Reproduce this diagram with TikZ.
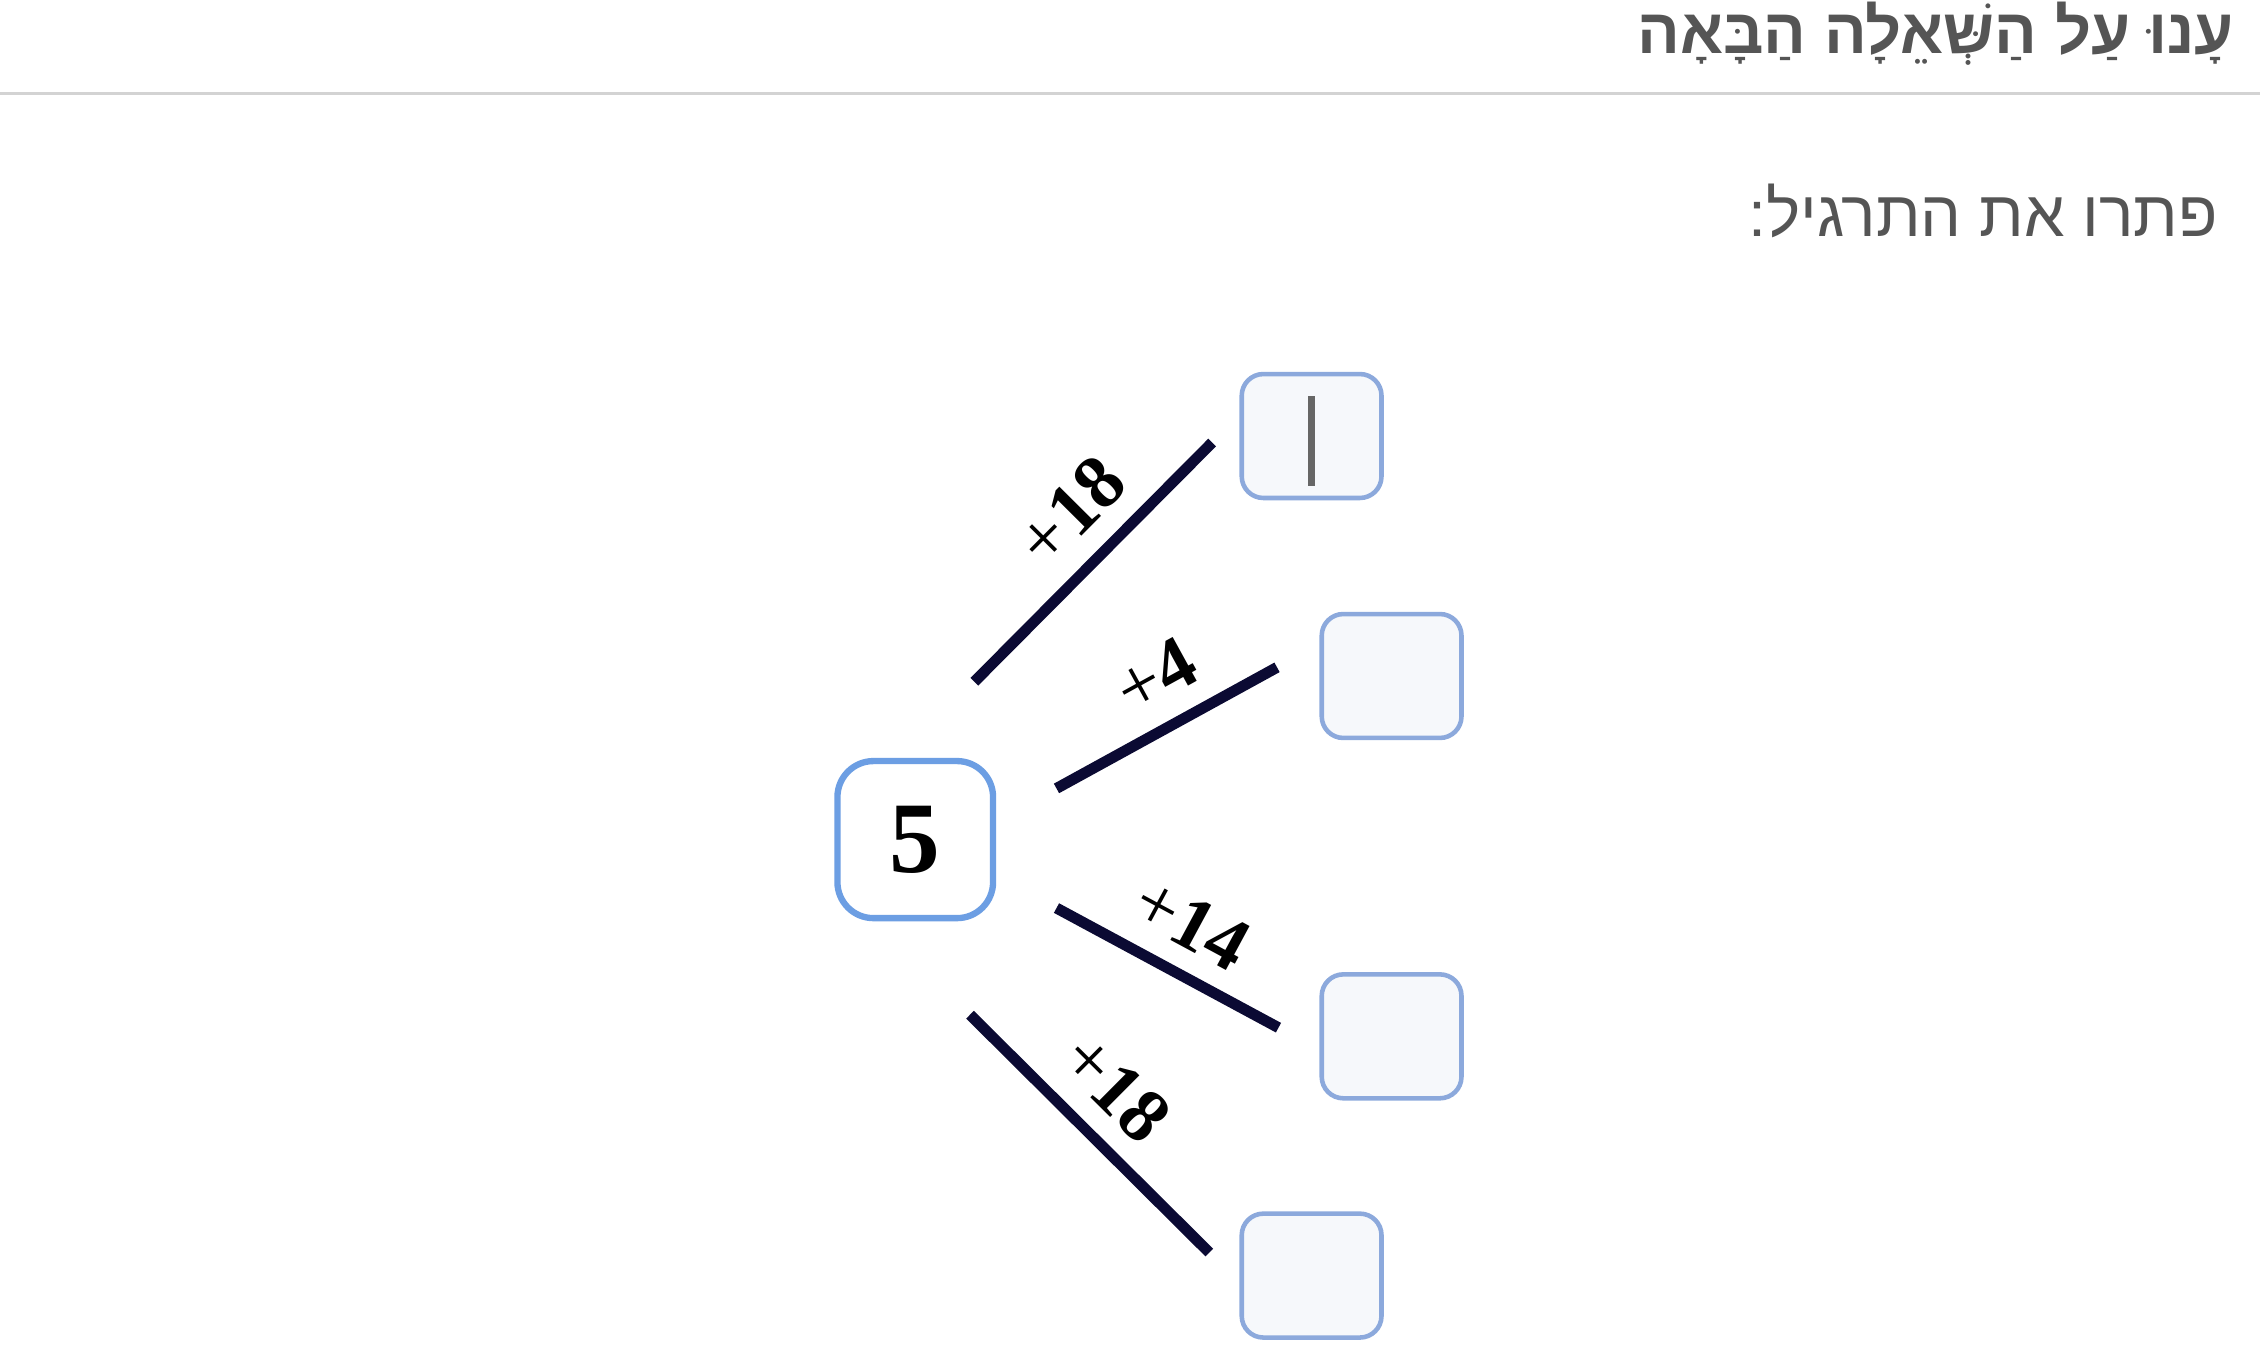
\documentclass[tikz,border=0pt]{standalone}
\usepackage{fontspec}
\setmainfont{Liberation Serif}
\newfontfamily\hebfont[Script=Hebrew]{Liberation Sans}
\TeXXeTstate=1
\usetikzlibrary{positioning}
\definecolor{boxblue}{HTML}{6C9EE3}
\definecolor{slotblue}{HTML}{8CA9DC}
\definecolor{slotfill}{HTML}{F6F8FB}
\definecolor{linenavy}{HTML}{0B0A33}
\definecolor{textgray}{HTML}{555555}
\definecolor{rulegray}{HTML}{D3D3D3}

\begin{document}
\begin{tikzpicture}[x=0.02cm, y=-0.02cm,
	  startbox/.style={draw=boxblue, line width=2.5pt, fill=white, rounded corners=0.5cm,
	    minimum width=2.16cm, minimum height=2.18cm, inner sep=0pt,
	    font=\fontsize{40}{44}\selectfont\bfseries},
	  slot/.style={draw=slotblue, line width=1.8pt, fill=slotfill, rounded corners=0.3cm,
	    minimum width=1.94cm, minimum height=1.72cm},
	  branch/.style={draw=linenavy, line width=4.3pt},
	  steplabel/.style={sloped, above=8pt, inner sep=0pt, font=\fontsize{30}{32}\selectfont}]
	  \useasboundingbox[fill=white] (0,0) rectangle (1568,932.5);
	  % header
	  \node[anchor=base east, text=textgray, font=\hebfont\fontsize{25}{30}\selectfont\bfseries]
	    (title) at (1556,37) {\beginR עָנוּ עַל הַשְּׁאֵלָה הַבָּאָה\endR};
	  \draw[rulegray, line width=1.2pt] (0,65) -- (1568,65);
	  \node[anchor=base east, text=textgray, font=\hebfont\fontsize{25.5}{30}\selectfont]
	    (task) at (1545,164) {\beginR פתרו את התרגיל:\endR};
	  % boxes
	  \node[startbox] (five) at (635,582.5) {\raisebox{-2pt}{5}};
	  \node[slot] (s1) at (910,302.5) {};
	  \node[slot] (s2) at (965.5,469) {};
	  \node[slot] (s3) at (965.5,719) {};
	  \node[slot] (s4) at (910,885) {};
	  \draw[black!60, line width=2.8pt] ([yshift=-0.34cm]s1.north) -- ([yshift=0.2cm]s1.south);
	  % branches
	  \coordinate (a1) at (676,473); \coordinate (b1) at (841,307);
	  \coordinate (a2) at (733,547); \coordinate (b2) at (886,463);
	  \coordinate (a3) at (733,630); \coordinate (b3) at (887,713);
	  \coordinate (a4) at (673,704); \coordinate (b4) at (839,869);
	  \draw[branch] (a1) -- node[steplabel, pos=0.56] {+\textbf{18}} (b1);
	  \draw[branch] (a2) -- node[steplabel, pos=0.56] {+\textbf{4}} (b2);
	  \draw[branch] (a3) -- node[steplabel, pos=0.5] {+\textbf{14}} (b3);
	  \draw[branch] (a4) -- node[steplabel, pos=0.46] {+\textbf{18}} (b4);
	\end{tikzpicture}
\end{document}
